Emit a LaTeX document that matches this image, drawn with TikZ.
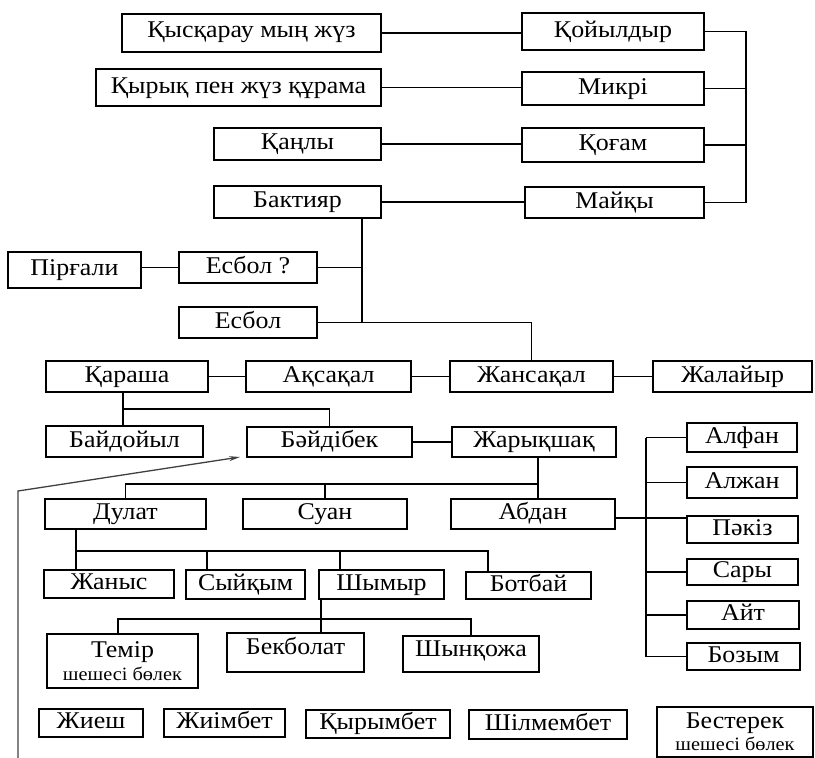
\documentclass[tikz,border=0pt]{standalone}
\usepackage{fontspec}
\setmainfont[FakeStretch=1.08]{Liberation Serif}
\usetikzlibrary{arrows.meta}
\tikzset{
  box/.style={draw, line width=1.4pt, inner sep=0pt, outer sep=0pt, font=\fontsize{24}{26}\selectfont, text height=17pt, text depth=6pt},
  link/.style={line width=1.4pt},
  arrowline/.style={line width=1.3pt, draw=black!75, -{Stealth[length=11pt,width=5pt]}},
  twoline/.style={text height=, text depth=, align=center}
}
\newcommand\smalltxt{\fontsize{18.8}{20}\selectfont}
\newcommand\bxx[7][]{\node[box, #1, minimum width={(#5-#3)*1pt}, minimum height={(#6-#4)*1pt}] (#2) at ({(#3+#5)/2},{(#4+#6)/2}) {#7};}
\begin{document}
\begin{tikzpicture}[x=1pt,y=-1pt]
\useasboundingbox (0,0) rectangle (815,758);
% top block
\bxx[text depth=9pt]{qys}{122}{14}{381}{52}{Қысқарау мың жүз}
\bxx{qoy}{522}{13}{704}{50}{Қойылдыр}
\bxx{qyr}{96}{69}{381}{106}{Қырық пен жүз құрама}
\bxx{mik}{522}{72}{704}{105}{Микрі}
\bxx{qan}{214}{128}{381}{160}{Қаңлы}
\bxx{qog}{522}{128}{704}{162}{Қоғам}
\bxx{bak}{214}{186}{381}{218}{Бактияр}
\bxx{mai}{525}{187}{704}{218}{Майқы}
\bxx{pir}{8}{252}{141}{288}{Пірғали}
\bxx{esq}{179}{252}{317}{283}{Есбол ?}
\bxx{esb}{179}{307}{317}{338}{Есбол}
\bxx{kar}{46}{361}{208}{392}{Қараша}
\bxx{aks}{246}{361}{411}{392}{Ақсақал}
\bxx{jns}{450}{361}{613}{392}{Жансақал}
\bxx{jal}{653}{361}{812}{392}{Жалайыр}
\bxx{bay}{46}{426}{203}{457}{Байдойыл}
\bxx{bai}{247}{427}{412}{457}{Бәйдібек}
\bxx{jar}{452}{427}{616}{457}{Жарықшақ}
\bxx{alf}{687}{423}{797}{452}{Алфан}
\bxx{alj}{687}{467}{797}{498}{Алжан}
\bxx{pak}{687}{516}{798}{543}{Пәкіз}
\bxx{sar}{687}{559}{798}{585}{Сары}
\bxx{ait}{687}{601}{799}{629}{Айт}
\bxx{boz}{687}{643}{800}{670}{Бозым}
\bxx{dul}{45}{499}{206}{529}{Дулат}
\bxx{sua}{243}{499}{407}{529}{Суан}
\bxx{abd}{451}{499}{615}{529}{Абдан}
\bxx{jan}{44}{570}{174}{598}{Жаныс}
\bxx{syi}{186}{570}{305}{599}{Сыйқым}
\bxx{shy}{319}{570}{444}{599}{Шымыр}
\bxx{bot}{466}{572}{591}{599}{Ботбай}
\bxx[twoline]{tem}{47}{634}{198}{688}{Темір\\[-3pt]{\smalltxt шешесі бөлек}}
\bxx[text depth=14pt]{bek}{227}{633}{364}{672}{Бекболат}
\bxx[text depth=12pt]{shn}{403}{636}{539}{672}{Шынқожа}
\bxx{jie}{39}{709}{143}{737}{Жиеш}
\bxx{jim}{164}{709}{285}{737}{Жиімбет}
\bxx{qrm}{306}{710}{450}{738}{Қырымбет}
\bxx{shl}{469}{710}{627}{739}{Шілмембет}
\bxx[twoline]{bes}{657}{707}{813}{757}{Бестерек\\[-4pt]{\smalltxt шешесі бөлек}}
% junction coordinates
\coordinate (rb) at (746,0);
\coordinate (j1) at (362,322.5);
\coordinate (k1) at (123,409);
\coordinate (j2) at (538,484);
\coordinate (br) at (646,0);
\coordinate (j3) at (76,551);
\coordinate (t2) at (207,551);
\coordinate (t3) at (340,551);
\coordinate (t4) at (488,551);
\coordinate (j4) at (321,619);
\coordinate (t5) at (118,619);
\coordinate (t6) at (471,619);
\coordinate (a0) at (18,758);
\coordinate (a1) at (18,491);
% top links
\draw[link] (qys.east) -- (qys.east -| qoy.west);
\draw[link] (qyr.east) -- (qyr.east -| mik.west);
\draw[link] (qan.east) -- (qan.east -| qog.west);
\draw[link] (bak.east) -- (bak.east -| mai.west);
\draw[link] (qoy.east) -- (qoy.east -| rb) -- (mai.east -| rb) -- (mai.east);
\draw[link] (mik.east) -- (mik.east -| rb);
\draw[link] (qog.east) -- (qog.east -| rb);
% Бактияр branch
\draw[link] (bak.south -| j1) -- (j1);
\draw[link] (esq.east) -- (esq.east -| j1);
\draw[link] (esq.west -| pir.east) -- (esq.west);
\draw[link] (esb.east) -- (j1) -| (jns.north);
% row
\draw[link] (kar.east) -- (aks.west);
\draw[link] (aks.east) -- (jns.west);
\draw[link] (jns.east) -- (jal.west);
\draw[link] (kar.south -| k1) -- (bay.north -| k1);
\draw[link] (k1) -| (bai.north);
\draw[link] (bai.east) -- (jar.west);
% arrow
\draw[arrowline] (a0) -- (a1) -- ([xshift=-7pt]bai.south west);
% Жарықшақ children
\draw[link] (jar.south -| j2) -- (abd.north -| j2);
\draw[link] (j2) -| (dul.north);
\draw[link] (sua.north) -- (sua.north |- j2);
\draw[link] ([yshift=-2pt]pak.north west) -- ([yshift=-2pt]pak.north west -| abd.east);
% bracket
\draw[link] (alf.west -| br) -- (boz.west -| br);
\draw[link] (alf.west) -- (alf.west -| br);
\draw[link] (alj.west) -- (alj.west -| br);
\draw[link] (sar.west) -- (sar.west -| br);
\draw[link] (ait.west) -- (ait.west -| br);
\draw[link] (boz.west) -- (boz.west -| br);
% Дулат children
\draw[link] (dul.south -| j3) -- (jan.north -| j3);
\draw[link] (j3) -- (t4) -- (t4 |- bot.north);
\draw[link] (t2) -- (t2 |- syi.north);
\draw[link] (t3) -- (t3 |- shy.north);
% Шымыр children
\draw[link] (shy.south -| j4) -- (bek.north -| j4);
\draw[link] (t5 |- tem.north) -- (t5) -- (t6) -- (t6 |- shn.north);
\end{tikzpicture}
\end{document}
